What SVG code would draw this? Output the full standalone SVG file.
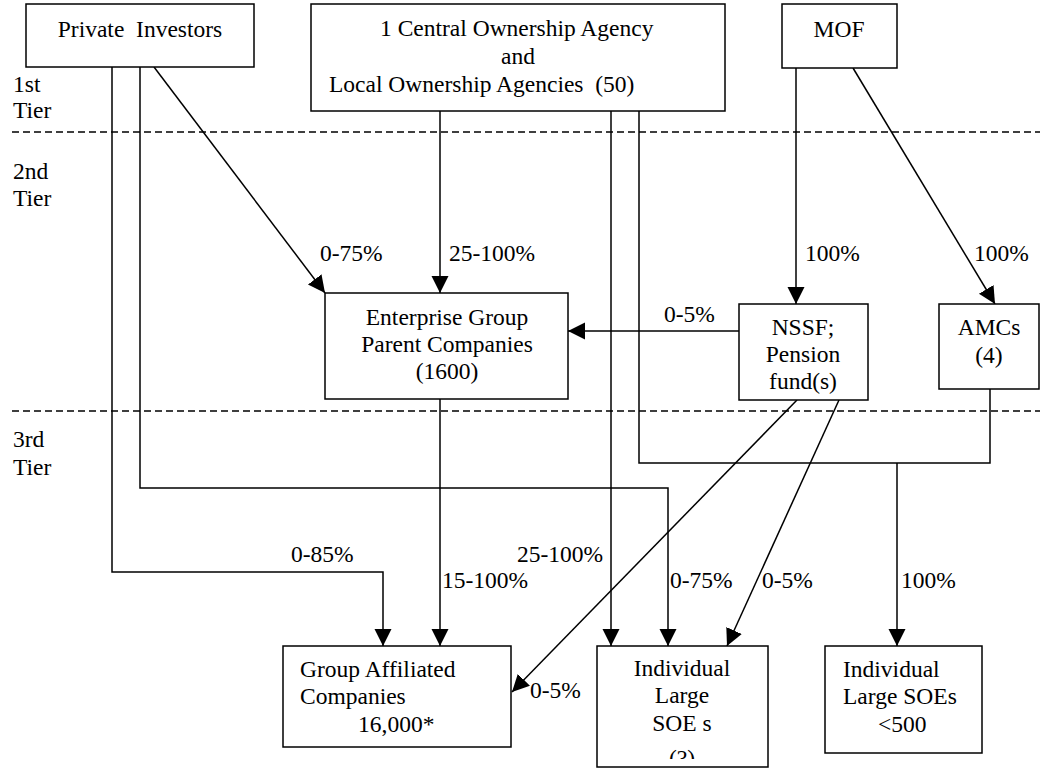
<svg xmlns="http://www.w3.org/2000/svg" width="1040" height="769" viewBox="0 0 1040 769" font-family="'Liberation Serif', 'DejaVu Serif', serif" font-size="23.5">
<style>
text{font-family:'Liberation Serif','DejaVu Serif',serif;font-size:23.5px;fill:#000}
.box{fill:#fff;stroke:#000;stroke-width:1.5}
.ln{fill:none;stroke:#000;stroke-width:1.5}
.arr{fill:none;stroke:#000;stroke-width:1.5;marker-end:url(#ah)}
.dash{fill:none;stroke:#000;stroke-width:1.6;stroke-dasharray:7 4}
.m{text-anchor:middle}
</style>
<defs>
<marker id="ah" markerUnits="userSpaceOnUse" markerWidth="18" markerHeight="18" refX="17" refY="8.5" orient="auto">
<path d="M0,0 L17,8.5 L0,17 z" fill="#000"/>
</marker>
<clipPath id="clipSoe"><rect x="597" y="646" width="171" height="113"/></clipPath>
</defs>
<g id="tiers">
<line class="dash" x1="12" y1="132" x2="1040" y2="132"/>
<line class="dash" x1="12" y1="411" x2="1040" y2="411"/>
<text x="13" y="92">1st</text>
<text x="13" y="118">Tier</text>
<text x="13" y="179">2nd</text>
<text x="13" y="206">Tier</text>
<text x="13" y="447">3rd</text>
<text x="13" y="475">Tier</text>
</g>
<g id="connectors">
<path class="arr" d="M154,67 L325,293"/>
<path class="arr" d="M440,111 V293"/>
<path class="arr" d="M796,68 V304"/>
<path class="arr" d="M853,68 L995,304"/>
<path class="arr" d="M739,331 H568"/>
<path class="arr" d="M440,399 V646"/>
<path class="arr" d="M112,67 V572 H383 V646"/>
<path class="arr" d="M140,67 V488 H668 V646"/>
<path class="arr" d="M611,111 V646"/>
<path class="ln" d="M639,111 V463 H990 V389"/>
<path class="arr" d="M897,463 V646"/>
<path class="arr" d="M797,400 L512,692"/>
<path class="arr" d="M839,400 L727,646"/>
<text x="320" y="261">0-75%</text>
<text x="449" y="261">25-100%</text>
<text x="805" y="261">100%</text>
<text x="974" y="261">100%</text>
<text x="664" y="322">0-5%</text>
<text x="291" y="562">0-85%</text>
<text x="517" y="562">25-100%</text>
<text x="442" y="588">15-100%</text>
<text x="670" y="588">0-75%</text>
<text x="762" y="588">0-5%</text>
<text x="901" y="588">100%</text>
<text x="530" y="698">0-5%</text>
</g>
<g id="private-investors">
<rect class="box" x="26" y="4" width="228" height="63"/>
<text class="m" x="140" y="37" xml:space="preserve">Private  Investors</text>
</g>
<g id="ownership-agencies">
<rect class="box" x="311" y="4" width="414" height="107"/>
<text x="380" y="36">1 Central Ownership Agency</text>
<text class="m" x="518" y="64">and</text>
<text x="329" y="92" xml:space="preserve">Local Ownership Agencies  (50)</text>
</g>
<g id="mof">
<rect class="box" x="782" y="4" width="115" height="64"/>
<text class="m" x="839" y="37">MOF</text>
</g>
<g id="enterprise-group">
<rect class="box" x="325" y="293" width="243" height="106"/>
<text class="m" x="447" y="325">Enterprise Group</text>
<text class="m" x="447" y="352">Parent Companies</text>
<text class="m" x="447" y="379">(1600)</text>
</g>
<g id="nssf">
<rect class="box" x="739" y="304" width="129" height="96"/>
<text class="m" x="803" y="335">NSSF;</text>
<text class="m" x="803" y="362">Pension</text>
<text class="m" x="803" y="389">fund(s)</text>
</g>
<g id="amcs">
<rect class="box" x="939" y="304" width="100" height="85"/>
<text class="m" x="989" y="335">AMCs</text>
<text class="m" x="989" y="363">(4)</text>
</g>
<g id="group-affiliated">
<rect class="box" x="283" y="646" width="228" height="101"/>
<text x="300" y="677">Group Affiliated</text>
<text x="300" y="704">Companies</text>
<text x="358" y="732">16,000*</text>
</g>
<g id="individual-large-soe">
<rect class="box" x="597" y="646" width="171" height="121"/>
<g clip-path="url(#clipSoe)">
<text class="m" x="682" y="676">Individual</text>
<text class="m" x="682" y="703">Large</text>
<text class="m" x="682" y="731">SOE s</text>
<text class="m" x="682" y="766">(?)</text>
</g>
</g>
<g id="individual-large-soes-500">
<rect class="box" x="825" y="646" width="157" height="107"/>
<text x="843" y="677">Individual</text>
<text x="843" y="704">Large SOEs</text>
<text x="878" y="732">&lt;500</text>
</g>
</svg>
